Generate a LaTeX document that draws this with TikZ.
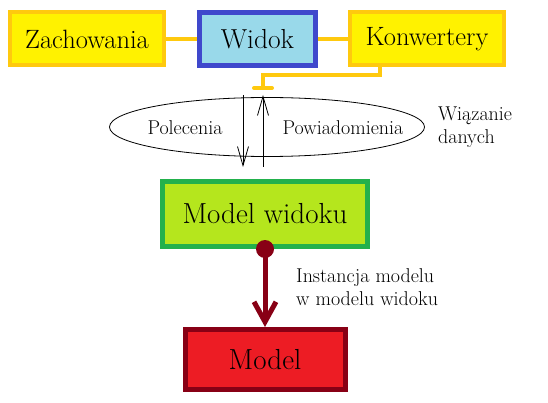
\documentclass[tikz,border=0pt]{standalone}
\usepackage{fontspec}
\usepackage{xcolor}
\usetikzlibrary{shapes,arrows.meta,positioning}

\definecolor{goldline}{HTML}{FFC90E}
\definecolor{yellowfill}{HTML}{FFF200}
\definecolor{blueline}{HTML}{3F48CC}
\definecolor{bluefill}{HTML}{99D9EA}
\definecolor{greenline}{HTML}{22B14C}
\definecolor{limefill}{HTML}{B5E61D}
\definecolor{darkred}{HTML}{880015}
\definecolor{redfill}{HTML}{ED1C24}

\begin{document}
\begin{tikzpicture}[
    x=1pt, y=-1pt,
    box/.style={rectangle, draw, line width=4pt, inner sep=0pt, minimum width=154pt, minimum height=53pt, align=center, font=\fontsize{26.5}{30}\selectfont},
    viewbox/.style={box, draw=blueline, fill=bluefill, line width=5pt, minimum width=116pt, font=\fontsize{27.5}{30}\selectfont},
    yellowbox/.style={box, draw=goldline, fill=yellowfill},
    bigbox/.style={box, line width=5pt, font=\fontsize{29}{32}\selectfont},
    note/.style={inner sep=0pt, align=left, font=\fontsize{20}{22.5}\selectfont},
    link/.style={draw=goldline, line width=4pt},
    arrow/.style={-{Straight Barb[length=19pt, width=11pt]}, line width=0.8pt},
    instance/.style={-{Straight Barb[length=20pt, width=22pt]}, draw=darkred, line width=5pt},
    dot/.style={circle, fill=darkred, inner sep=0pt, minimum size=18pt}
]
\useasboundingbox (0,0) rectangle (548,403);

% View
\node[viewbox] (widok) at (257.5,39) {Widok};

% Behaviours and converters
\node[yellowbox, left=31pt of widok] (zachowania) {Zachowania};
\node[yellowbox, right=30pt of widok] (konwertery) {Konwertery};

% Data binding
\node[ellipse, draw, line width=0.8pt, minimum width=315pt, minimum height=59pt] (binding) at (267,127) {};
\node[note] (polecenia) at (185,128) {Polecenia};
\node[note] (powiadomienia) at (343,128) {Powiadomienia};
\node[note, right=13pt of binding] (wiazanie) {Wiązanie\\danych};

% View model
\node[bigbox, draw=greenline, fill=limefill, minimum width=205pt, minimum height=65pt] (viewmodel) at (265,214) {Model widoku};

% Model
\node[bigbox, draw=darkred, fill=redfill, minimum width=160pt, minimum height=60pt, below=78pt of viewmodel] (model) {Model};

% Instance
\node[dot] (handle) at (viewmodel.south) {};
\node[note, anchor=west] (instlabel) at (296,287) {Instancja modelu\\w modelu widoku};

% Free ends
\coordinate (socket) at (263,88);
\coordinate (cmdtop) at (243,95);
\coordinate (cmdbottom) at (243,167);
\coordinate (notifybottom) at (263,167);
\coordinate (notifytop) at (263,95);

% Links
\draw[link] (zachowania) -- (widok);
\draw[link] (widok) -- (konwertery);
\draw[link] ([xshift=-47pt]konwertery.south) -- ++(0,8) -| (socket);
\draw[link, line cap=round] ([xshift=-9pt]socket) -- ([xshift=9pt]socket);

% Arrows
\draw[arrow] (cmdtop) -- (cmdbottom);
\draw[arrow] (notifybottom) -- (notifytop);
\draw[instance] (handle.center) -- (model.north);

\end{tikzpicture}
\end{document}
